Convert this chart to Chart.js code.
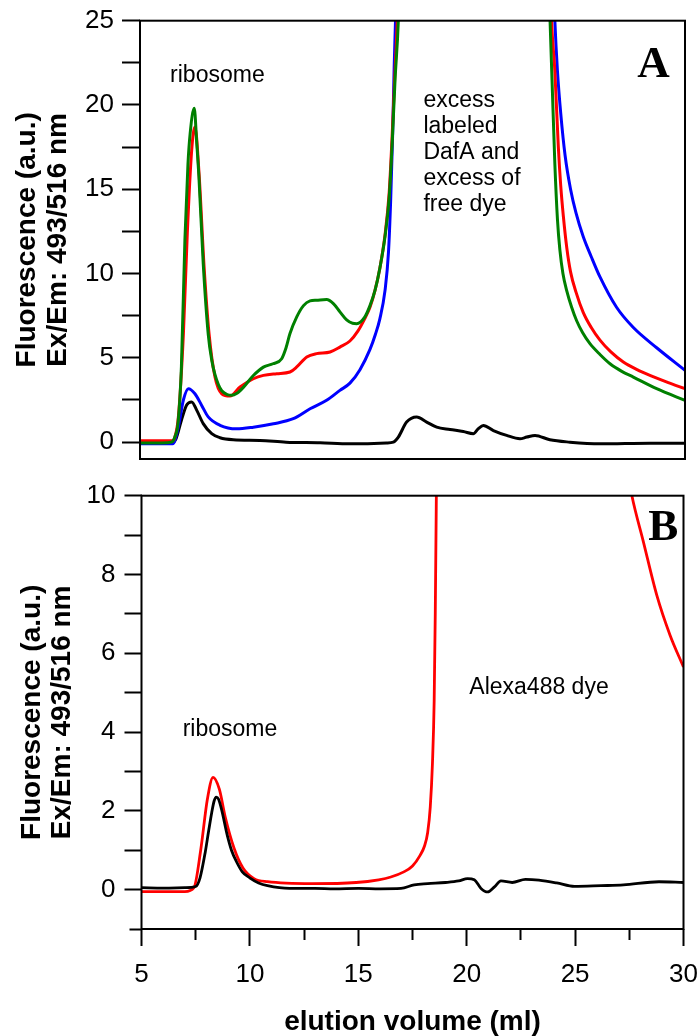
<!DOCTYPE html>
<html><head><meta charset="utf-8">
<script src="https://cdn.jsdelivr.net/npm/chart.js@4/dist/chart.umd.min.js"></script>
<style>
html,body{margin:0;padding:0;background:#fff;overflow:hidden;}
#wrap{position:relative;width:699px;height:1036px;}
canvas{position:absolute;left:0;}
</style></head><body>
<div id="wrap">
<canvas id="cA" width="699" height="480" style="top:0px"></canvas>
<canvas id="cB" width="699" height="556" style="top:480px"></canvas>
</div>
<script>
// ---------- Panel A data (elution volume ml, fluorescence a.u.) ----------
const aGreenX = [5, 6, 6.45, 6.6, 6.75, 6.9, 7.06, 7.2, 7.3, 7.49, 7.6, 7.7, 7.9, 8.13, 8.3, 8.44, 8.6, 8.75, 9.0, 9.2, 9.45, 9.74, 10.2, 10.66, 11.1, 11.5, 11.7, 11.88, 12.19, 12.5, 12.8, 13.1, 13.56, 13.87, 14.17, 14.48, 14.75, 14.94, 15.3, 15.55, 15.78, 16.0, 16.24, 16.43, 16.56, 16.7, 16.85, 17.0, 23.65, 23.81, 23.9, 24.03, 24.15, 24.26, 24.4, 24.57, 24.8, 25.03, 25.3, 25.64, 26.1, 26.56, 27.1, 27.63, 28.7, 30];
const aGreenY = [-0.05, -0.05, 0, 0.3, 1.2, 4.5, 12.0, 16.5, 18.3, 19.8, 17.8, 15.8, 10.6, 6.4, 4.8, 4.0, 3.4, 3.05, 2.82, 2.78, 2.9, 3.25, 3.95, 4.45, 4.65, 4.95, 5.6, 6.44, 7.43, 8.1, 8.38, 8.42, 8.46, 8.22, 7.73, 7.25, 7.05, 7.03, 7.4, 8.1, 9.0, 10.3, 12.2, 14.5, 17.5, 21.5, 25, 32, 32, 25, 21.5, 16.5, 13.2, 11.4, 10.0, 9.0, 8.0, 7.2, 6.5, 5.84, 5.2, 4.65, 4.2, 3.86, 3.17, 2.48];

const aRedX = [5, 6.5, 6.6, 6.76, 6.99, 7.17, 7.37, 7.52, 7.71, 7.94, 8.17, 8.44, 8.75, 9.13, 9.59, 10.2, 10.66, 11.27, 11.88, 12.19, 12.65, 13.1, 13.72, 14.17, 14.63, 15.0, 15.3, 15.55, 15.78, 16.0, 16.24, 16.43, 16.56, 16.68, 16.8, 16.95, 23.72, 23.88, 24.03, 24.19, 24.3, 24.42, 24.58, 24.75, 25.0, 25.33, 25.7, 26.1, 26.6, 27.17, 27.8, 28.39, 29.2, 30];
const aRedY = [0.08, 0.08, 0.3, 1.5, 6.4, 12.4, 17.3, 18.7, 15.9, 10.4, 6.4, 3.86, 2.87, 2.73, 3.27, 3.76, 3.96, 4.06, 4.16, 4.46, 5.05, 5.25, 5.35, 5.64, 6.0, 6.6, 7.3, 8.0, 9.0, 10.3, 12.3, 14.8, 18, 21.5, 25, 32, 32, 25, 22.0, 17.5, 15.2, 13.4, 11.5, 10.1, 8.9, 7.7, 6.8, 6.05, 5.35, 4.75, 4.3, 3.96, 3.55, 3.17];

const aBlueX = [5, 6.5, 6.6, 6.76, 6.99, 7.22, 7.52, 7.83, 8.13, 8.67, 9.43, 10.2, 11.12, 12.03, 12.8, 13.56, 14.17, 14.63, 15.09, 15.55, 15.8, 16.0, 16.24, 16.4, 16.5, 16.59, 16.66, 16.72, 16.85, 23.85, 24.03, 24.15, 24.3, 24.5, 24.75, 25.0, 25.33, 25.7, 26.1, 26.86, 27.63, 28.7, 30];
const aBlueY = [-0.1, -0.1, 0.1, 0.9, 2.5, 3.17, 2.87, 2.18, 1.5, 1.0, 0.79, 0.89, 1.09, 1.39, 1.98, 2.48, 3.07, 3.5, 4.3, 5.5, 6.4, 7.3, 9.0, 11.3, 14.4, 18.3, 22.3, 25, 32, 32, 25, 22.0, 19.5, 17.0, 15.0, 13.6, 12.2, 11.0, 9.8, 8.0, 6.8, 5.6, 4.26];

const aBlackX = [5, 6.5, 6.65, 6.9, 7.14, 7.37, 7.6, 7.9, 8.29, 8.67, 9.28, 10.5, 11.7, 13.26, 14.63, 16.3, 16.62, 16.85, 17.23, 17.69, 18.15, 18.61, 19.22, 19.83, 20.29, 20.52, 20.75, 21.21, 21.82, 22.43, 22.74, 23.12, 23.8, 24.72, 26.1, 28.4, 30];
const aBlackY = [0.0, 0.0, 0.2, 1.3, 2.2, 2.38, 1.9, 1.1, 0.5, 0.26, 0.14, 0.1, 0.0, -0.04, -0.1, -0.05, 0.0, 0.3, 1.19, 1.49, 1.19, 0.89, 0.75, 0.63, 0.5, 0.8, 0.99, 0.69, 0.4, 0.2, 0.3, 0.4, 0.14, 0.0, -0.1, -0.06, -0.06];

// ---------- Panel B data ----------
const bBlackX = [5, 6, 7, 7.5, 7.7, 7.94, 8.1, 8.24, 8.35, 8.45, 8.55, 8.69, 8.96, 9.15, 9.37, 9.65, 9.99, 10.4, 10.81, 11.83, 13.0, 13.89, 15, 16, 16.97, 17.58, 18.2, 19.02, 19.63, 20.04, 20.35, 20.66, 20.97, 21.28, 21.58, 22.1, 22.71, 23.33, 24.15, 24.97, 26.2, 27.23, 28.87, 30];
const bBlackY = [0.05, 0.04, 0.05, 0.08, 0.3, 0.95, 1.5, 1.96, 2.25, 2.35, 2.3, 2.04, 1.37, 1.0, 0.72, 0.45, 0.3, 0.17, 0.1, 0.03, 0.03, 0.02, 0.03, 0.02, 0.03, 0.12, 0.15, 0.18, 0.22, 0.28, 0.25, 0.03, -0.06, 0.07, 0.22, 0.18, 0.26, 0.24, 0.17, 0.08, 0.1, 0.12, 0.2, 0.18];

const bRedX = [5, 7.0, 7.42, 7.73, 8.04, 8.3, 8.59, 8.86, 9.27, 9.68, 10.19, 10.81, 12.86, 14.9, 15.94, 16.5, 17.1, 17.5, 17.85, 18.05, 18.2, 18.32, 18.42, 18.5, 18.55, 18.6, 18.75, 26.0, 26.6, 27.1, 27.62, 28.15, 28.77, 29.38, 30];
const bRedY = [-0.05, -0.05, 0.05, 1.0, 2.3, 2.85, 2.55, 1.85, 1.05, 0.55, 0.28, 0.2, 0.15, 0.18, 0.25, 0.32, 0.45, 0.6, 0.87, 1.1, 1.45, 2.1, 3.2, 4.8, 7.0, 10, 20, 16, 13.5, 11.6, 10, 8.83, 7.47, 6.46, 5.65];

// ---------- tick / axis text ----------
const yTitle = ['Fluorescence (a.u.)', 'Ex/Em: 493/516 nm'];
const xTitle = 'elution volume (ml)';
const aYLabels = [0, 5, 10, 15, 20, 25];
const bYLabels = [0, 2, 4, 6, 8, 10];
const bXLabels = [5, 10, 15, 20, 25, 30];

// ---------- annotations (data coordinates) ----------
const notesA = [
  {text: ['ribosome'], x: 6.38, y: 21.38, align: 'left', font: '23px "Liberation Sans", Arial, sans-serif', step: 0},
  {text: ['excess', 'labeled', 'DafA and', 'excess of', 'free dye'], x: 18.0, y: 19.9, align: 'left', font: '23px "Liberation Sans", Arial, sans-serif', step: 26},
  {text: ['A'], x: 28.56, y: 21.68, align: 'center', font: 'bold 45px "Liberation Serif", "Times New Roman", serif', step: 0}
];
const notesB = [
  {text: ['ribosome'], x: 6.9, y: 3.91, align: 'left', font: '23px "Liberation Sans", Arial, sans-serif', step: 0},
  {text: ['Alexa488 dye'], x: 20.12, y: 4.97, align: 'left', font: '23px "Liberation Sans", Arial, sans-serif', step: 0},
  {text: ['B'], x: 29.07, y: 8.87, align: 'center', font: 'bold 45px "Liberation Serif", "Times New Roman", serif', step: 0}
];

const FAMILY = '"Liberation Sans", Arial, Helvetica, sans-serif';
Chart.defaults.font.family = FAMILY;
Chart.defaults.color = '#000';

function pts(xs, ys) { return xs.map((x, i) => ({x: x, y: ys[i]})); }
function ds(xs, ys, color, w) {
  return {data: pts(xs, ys), borderColor: color, backgroundColor: color, borderWidth: w,
    pointRadius: 0, fill: false, cubicInterpolationMode: 'monotone'};
}

const framePlugin = {
  id: 'frame',
  afterDatasetsDraw(chart) {
    const c = chart.ctx, a = chart.chartArea;
    c.save(); c.strokeStyle = '#000'; c.lineWidth = 2;
    c.strokeRect(a.left, a.top, a.right - a.left, a.bottom - a.top);
    c.restore();
  }
};
function notesPlugin(list) {
  return {
    id: 'notes',
    afterDraw(chart) {
      const c = chart.ctx, sx = chart.scales.x, sy = chart.scales.y;
      c.save(); c.fillStyle = '#000'; c.textBaseline = 'alphabetic';
      list.forEach(n => {
        c.font = n.font; c.textAlign = n.align;
        const x = sx.getPixelForValue(n.x), y = sy.getPixelForValue(n.y);
        n.text.forEach((t, i) => c.fillText(t, x, y + i * n.step));
      });
      c.restore();
    }
  };
}
function fixY(w) { return s => { s.width = w; s.paddingTop = 0; s.paddingBottom = 0; }; }
function fixX(h) { return s => { s.height = h; s.paddingLeft = 0; s.paddingRight = 0; }; }

// ---------- Chart A ----------
new Chart(document.getElementById('cA'), {
  type: 'line',
  data: {datasets: [
    ds(aGreenX, aGreenY, '#008000', 3),
    ds(aRedX, aRedY, '#ff0000', 3),
    ds(aBlueX, aBlueY, '#0000ff', 3),
    ds(aBlackX, aBlackY, '#000000', 3)
  ]},
  options: {
    responsive: false, animation: false, devicePixelRatio: 1,
    layout: {padding: {left: 0, top: 20.7, right: 14, bottom: 21}},
    plugins: {legend: {display: false}, tooltip: {enabled: false}},
    scales: {
      x: {type: 'linear', min: 5, max: 30, display: false},
      y: {
        type: 'linear', min: -1, max: 25,
        afterFit: fixY(140),
        border: {display: false},
        grid: {display: true, drawOnChartArea: false, drawTicks: true, tickLength: 18, tickWidth: 2, tickColor: '#000'},
        ticks: {stepSize: 2.5, includeBounds: false, autoSkip: false, padding: 8, color: '#000',
          font: {size: 26, family: FAMILY},
          callback: v => aYLabels.includes(v) ? String(v) : ''},
        title: {display: true, text: yTitle, color: '#000',
          font: {size: 28, weight: 'bold', family: FAMILY, lineHeight: 1.13},
          padding: {top: 11, bottom: 0}}
      }
    }
  },
  plugins: [framePlugin, notesPlugin(notesA)]
});

// ---------- Chart B ----------
new Chart(document.getElementById('cB'), {
  type: 'line',
  data: {datasets: [
    ds(bBlackX, bBlackY, '#000000', 2.8),
    ds(bRedX, bRedY, '#ff0000', 2.8)
  ]},
  options: {
    responsive: false, animation: false, devicePixelRatio: 1,
    layout: {padding: {left: 0, top: 15.7, right: 15.5, bottom: 0}},
    plugins: {legend: {display: false}, tooltip: {enabled: false}},
    scales: {
      x: {
        type: 'linear', min: 5, max: 30,
        afterFit: fixX(107),
        border: {display: false},
        grid: {display: true, drawOnChartArea: false, drawTicks: true, tickLength: 17, tickWidth: 2, tickColor: '#000',
          tickBorderDash: c => (c.tick && Math.abs(c.tick.value % 5) > 1e-6) ? [11, 60] : []},
        ticks: {stepSize: 2.5, autoSkip: false, maxRotation: 0, padding: 13, color: '#000',
          font: {size: 26, family: FAMILY},
          callback: v => bXLabels.includes(v) ? String(v) : ''},
        title: {display: true, text: xTitle, color: '#000',
          font: {size: 28, weight: 'bold', family: FAMILY, lineHeight: 1.0},
          padding: {top: 0, bottom: 0}}
      },
      y: {
        type: 'linear', min: -1, max: 10,
        afterFit: fixY(141.5),
        border: {display: false},
        grid: {display: true, drawOnChartArea: false, drawTicks: true, tickLength: 17, tickWidth: 2, tickColor: '#000',
          tickBorderDash: c => (c.tick && c.tick.value === -1) ? [0, 5, 12, 60] : []},
        ticks: {stepSize: 1, autoSkip: false, padding: 9, color: '#000',
          font: {size: 26, family: FAMILY},
          callback: v => bYLabels.includes(v) ? String(v) : ''},
        title: {display: true, text: yTitle, color: '#000',
          font: {size: 28, weight: 'bold', family: FAMILY, lineHeight: 1.08},
          padding: {top: 17, bottom: 0}}
      }
    }
  },
  plugins: [framePlugin, notesPlugin(notesB)]
});
</script>
</body></html>
